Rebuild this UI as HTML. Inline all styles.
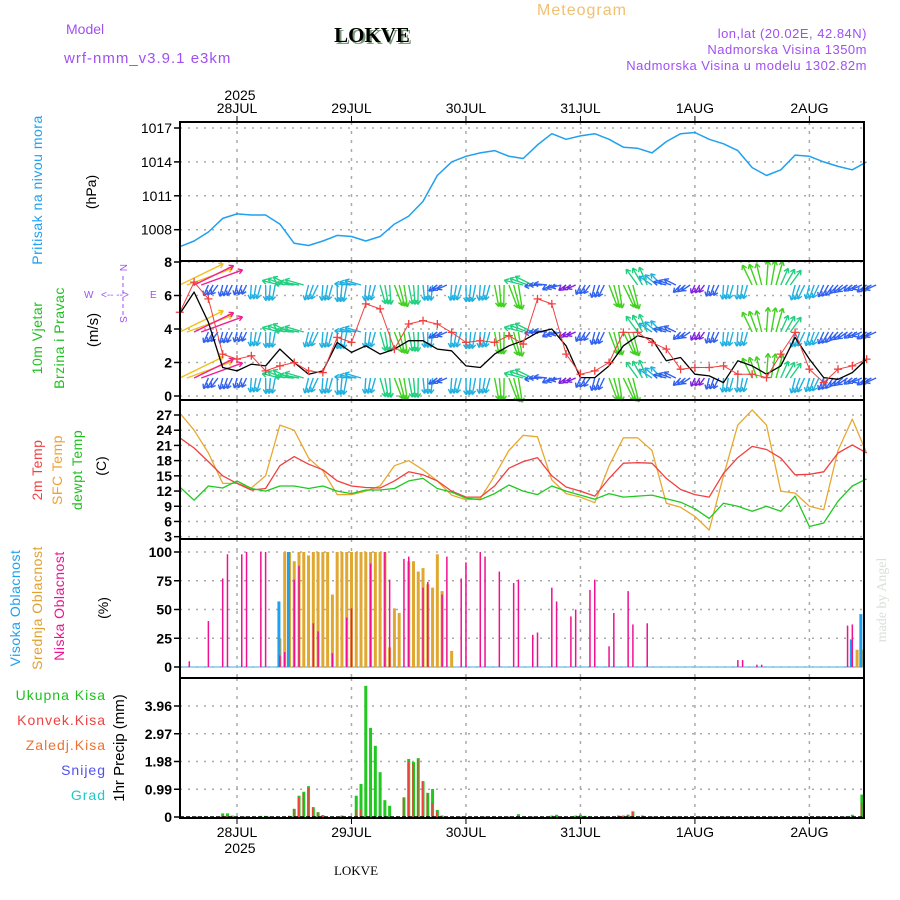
<!DOCTYPE html>
<html><head><meta charset="utf-8">
<style>
html,body{margin:0;padding:0;background:#fff;}
svg{display:block;font-family:"Liberation Sans",sans-serif;}
</style></head>
<body>
<svg id="chart" width="900" height="900" viewBox="0 0 900 900" xmlns="http://www.w3.org/2000/svg">
<rect width="900" height="900" fill="#fff"/>
<g>
<text x="582" y="15" font-size="16" fill="#f0c070" text-anchor="middle" letter-spacing="1">Meteogram</text>
<text x="66" y="34" font-size="14" fill="#a050f0">Model</text>
<text x="374" y="44" font-size="21" font-weight="bold" font-family="Liberation Serif,serif" fill="#7a9a7a" text-anchor="middle">LOKVE</text>
<text x="372" y="42" font-size="21" font-weight="bold" font-family="Liberation Serif,serif" fill="#000" text-anchor="middle">LOKVE</text>
<text x="64" y="63" font-size="15" fill="#a050f0" letter-spacing="1">wrf-nmm_v3.9.1 e3km</text>
<text x="867" y="38" font-size="13" fill="#a050f0" text-anchor="end" letter-spacing="0.5">lon,lat (20.02E, 42.84N)</text>
<text x="867" y="54" font-size="13" fill="#a050f0" text-anchor="end" letter-spacing="0.5">Nadmorska Visina 1350m</text>
<text x="867" y="70" font-size="13" fill="#a050f0" text-anchor="end" letter-spacing="0.5">Nadmorska Visina u modelu 1302.82m</text>
<text x="240" y="100" font-size="14" text-anchor="middle">2025</text>
<text x="240" y="853" font-size="14" text-anchor="middle">2025</text>
<text x="356" y="875" font-size="13" font-family="Liberation Serif,serif" text-anchor="middle">LOKVE</text>
<text transform="translate(886,600) rotate(-90)" font-size="14" font-family="Liberation Serif,serif" fill="#d8e0d8" text-anchor="middle">made by Angel</text>
</g>
<g font-size="14">
<text transform="translate(42,190) rotate(-90)" fill="#20a0f0" text-anchor="middle" letter-spacing="0.5">Pritisak na nivou mora</text>
<text transform="translate(96,192) rotate(-90)" text-anchor="middle">(hPa)</text>
<text transform="translate(42,338) rotate(-90)" fill="#20c020" text-anchor="middle" letter-spacing="0.5">10m Vjetar</text>
<text transform="translate(64,338) rotate(-90)" fill="#20c020" text-anchor="middle" letter-spacing="0.5">Brzina i Pravac</text>
<text transform="translate(98,330) rotate(-90)" text-anchor="middle" font-size="15">(m/s)</text>
<g fill="#a050f0" font-size="10">
<text x="84" y="298">W</text><text x="101" y="298">&lt;-- --&gt;</text><text x="150" y="298">E</text>
<line x1="123" y1="276" x2="123" y2="318" stroke="#a050f0" stroke-dasharray="4,3"/>
<text transform="translate(120,264) rotate(90)">N</text>
<text transform="translate(120,316) rotate(90)">S</text>
</g>
<text transform="translate(42,470) rotate(-90)" fill="#f04040" text-anchor="middle" letter-spacing="0.5">2m Temp</text>
<text transform="translate(62,470) rotate(-90)" fill="#f0a030" text-anchor="middle" letter-spacing="0.5">SFC Temp</text>
<text transform="translate(82,470) rotate(-90)" fill="#20c020" text-anchor="middle" letter-spacing="0.5">dewpt Temp</text>
<text transform="translate(106,466) rotate(-90)" text-anchor="middle">(C)</text>
<text transform="translate(20,608) rotate(-90)" fill="#20a0f0" text-anchor="middle" letter-spacing="0.5">Visoka Oblacnost</text>
<text transform="translate(42,608) rotate(-90)" fill="#e0a030" text-anchor="middle" letter-spacing="0.5">Srednja Oblacnost</text>
<text transform="translate(64,606) rotate(-90)" fill="#f01090" text-anchor="middle" letter-spacing="0.5">Niska Oblacnost</text>
<text transform="translate(108,608) rotate(-90)" text-anchor="middle">(%)</text>
<text x="106" y="700" fill="#20c020" text-anchor="end" letter-spacing="1">Ukupna  Kisa</text>
<text x="106" y="725" fill="#f04040" text-anchor="end" letter-spacing="1">Konvek.Kisa</text>
<text x="106" y="750" fill="#f07030" text-anchor="end" letter-spacing="1">Zaledj.Kisa</text>
<text x="106" y="775" fill="#5050f0" text-anchor="end" letter-spacing="1">Snijeg</text>
<text x="106" y="800" fill="#20c8c8" text-anchor="end" letter-spacing="1">Grad</text>
<text transform="translate(124,748) rotate(-90)" text-anchor="middle" font-size="15">1hr Precip (mm)</text>
</g>
<g id="plot"></g>
</svg>
<script>
// ---------- data ----------
const hours3 = [-12,-9,-6,-3,0,3,6,9,12,15,18,21,24,27,30,33,36,39,42,45,48,51,54,57,60,63,66,69,72,75,78,81,84,87,90,93,96,99,102,105,108,111,114,117,120,123,126,129,132];
const pressure = [1006.5,1007,1007.8,1009,1009.4,1009.3,1009.3,1008.5,1006.8,1006.6,1007,1007.5,1007.4,1007,1007.4,1008.5,1009.2,1010.5,1012.8,1014,1014.5,1014.8,1015,1014.5,1014.3,1015.5,1016.5,1016,1016.3,1016.5,1016,1015.3,1015.2,1014.8,1015.8,1016.5,1016.6,1016,1015.6,1015,1013.5,1012.8,1013.3,1014.6,1014.5,1014,1013.6,1013.3,1014];
const windSpeed = [4.9,6.2,4.4,1.7,1.5,1.9,1.8,2.8,2,1.3,1.5,3.2,2.6,3,2.5,2.8,3.3,3.3,2.8,2.7,1.8,1.7,2.5,3,3.3,3.8,4,3,1.1,1.1,1.8,3,3.6,3.4,2.1,2.3,1.3,1.2,0.8,2.1,1.8,1.3,1.8,3.5,2.2,1.1,1,1.4,2.2];
const windGust = [5,6.8,5.8,2.5,2.2,2.4,1.5,1.8,2,1.5,1.4,3.5,3.2,5.5,5.2,2.8,4.3,4.5,4.3,3.8,3.2,3.3,3.2,3.6,3.1,5.8,5.5,2.5,1.3,1.5,2,3.8,3.8,3.2,2.8,1.6,1.7,1.7,1.8,1.3,1.3,1.1,2.5,3.8,1.6,0.8,1.6,1.8,2.2];
const windDir = [340,340,120,110,110,100,95,200,190,110,100,95,190,100,80,75,85,90,150,100,95,100,85,75,200,180,160,150,120,110,75,70,240,220,200,140,120,110,100,100,250,280,300,110,110,120,140,150,150];
const windLen = [22,20,9,9,8,11,12,14,15,12,12,13,13,12,15,17,15,12,8,12,13,12,17,19,15,10,8,7,8,10,18,19,15,12,10,8,7,9,11,11,17,19,14,12,11,10,9,8,9];
const temp2m = [22.5,20.5,17.8,15,13.5,12.2,12.5,17,18.8,17.3,16.2,14,13,12.7,12.6,14,15.8,15.2,14,12,10.8,10.8,13,16.5,17.8,18.6,15,12.8,12,11,14.5,17.5,17.6,17.5,14.5,12.3,11.3,10.8,15.5,18.6,20.8,20.2,18.5,15.2,15.3,15.8,19.5,21.1,19.5];
const tempSfc = [27.4,24,19.5,13.5,13.5,12.6,15,25,24,18.5,16,11.3,11.3,12,13,17,18,16.2,14,11.2,10.3,10.5,15,20,23,22.7,14.2,11.5,10.8,9.7,17,22.5,22.5,20,9.6,8.8,7,4.3,15,25,28,25,12,11.6,9,8.3,20,26.2,19.5];
const dewpt = [12.8,10.2,13,12.6,14,12.5,12,13,13,12.5,13,12,11.5,12.2,12.2,12.5,14,14.5,12.5,11.8,10.6,10.3,11.5,13.2,12,11.3,13,12,11.2,10.4,11.5,10.8,11,11.2,10.5,9.8,8.5,6.6,9.6,9,8,9,8,11,5,5.7,10,13,14.4];
const lowCloudHours = [-10,-6,-3,-2,1,2,5,6,9,10,12,13,16,17,20,23,24,28,31,32,35,36,39,40,43,44,47,48,51,52,55,58,59,62,63,66,67,70,71,74,75,78,79,82,83,86,105,106,109,110,128,129];
const lowCloud = [5,40,77,98,98,100,100,100,10,13,76,88,38,31,12,43,51,90,100,76,94,96,69,74,63,96,77,91,100,96,83,73,76,28,30,69,57,44,50,67,76,18,47,66,37,38,6,6,2,2,36,37];
const midCloudHours = [9,10,11,12,13,14,15,16,17,18,19,20,21,22,23,24,25,26,27,28,29,30,31,32,33,34,36,37,38,39,40,41,42,43,45,130,131];
const midCloud = [25,100,100,92,100,100,97,100,100,100,100,63,100,100,100,100,100,100,100,100,100,100,100,17,51,47,92,92,83,86,72,69,98,66,14,15,15];
const highCloudHours = [9,11,129,131];
const highCloud = [57,100,24,46];
const rainHours = [-3,-2,-1,5,6,11,12,13,14,15,16,17,18,22,25,26,27,28,29,30,31,32,35,36,37,38,39,40,41,42,43,59,66,67,71,72,73,80,81,82,83,85,129,131];
const rainTotal = [0.13,0.13,0.05,0.04,0.04,0.04,0.29,0.76,0.9,1.1,0.35,0.17,0.07,0.05,0.76,1.18,4.68,3.18,2.54,1.6,0.6,0.4,0.7,2.07,1.96,2.1,1.28,0.86,1.0,0.25,0.05,0.1,0.05,0.08,0.05,0.08,0.04,0.05,0.05,0.08,0.2,0.05,0.08,0.8];
const rainConv = [0.05,0.05,0.03,0,0,0.04,0.29,0.7,0.85,1.05,0.35,0.17,0.07,0.05,0.25,0.25,0,0,0,0,0,0,0.7,2.0,1.9,2.05,1.28,0.86,0.5,0.2,0.05,0,0,0,0,0,0,0.05,0.05,0.08,0.2,0.05,0,0.5];
const dayLabels = ["28JUL","29JUL","30JUL","31JUL","1AUG","2AUG"];
const pTicks = [1017,1014,1011,1008];
const wTicks = [0,2,4,6,8];
const tTicks = [3,6,9,12,15,18,21,24,27];
const cTicks = [0,25,50,75,100];
const rTicks = [0,0.99,1.98,2.97,3.96];

// ---------- scales ----------
const X0=180, X1=864;
const xS = h => 237 + h*4.77;
const yP = v => 128 + (1017-v)*11.3;
const yW = v => 396 - v*16.75;
const yT = v => 415 + (27-v)*5.07;
const yC = v => 667 - v*1.15;
const yR = v => 817 - v*28.03;
const panels = [[122,261],[261,400],[400,539],[539,678],[678,818]];

const NS="http://www.w3.org/2000/svg";
const plot=document.getElementById('plot');
function mk(tag,attrs,parent){const e=document.createElementNS(NS,tag);for(const k in attrs)e.setAttribute(k,attrs[k]);(parent||plot).appendChild(e);return e;}

function grid(ticks, yf, p, fmt, bold){
  const g=mk('g',{});
  
  
  ticks.forEach(t=>{
    const y=yf(t);
    const gl=mk('line',{x1:X0,x2:X1,y1:y,y2:y,stroke:'#aaa','stroke-width':1.5,'stroke-dasharray':'2,6'},g);
    
    
    mk('line',{x1:X0-6,x2:X0,y1:y,y2:y,stroke:'#000','stroke-width':1.5},g);
    const tx=mk('text',{x:X0-8,y:y+5,'font-size':14,'text-anchor':'end','font-weight':bold?'bold':'normal'},g);
    tx.textContent=fmt?fmt(t):t;
    
    
  });
}
panels.forEach(p=>{
  for(let d=0;d<6;d++){
    const x=xS(d*24);
    const vl=mk('line',{x1:x,x2:x,y1:p[0],y2:p[1],stroke:'#aaa','stroke-width':1.5,'stroke-dasharray':'3,6'});
    
    
  }
});
grid(pTicks,yP,0);
grid(wTicks,yW,1,null,true);
grid(tTicks,yT,2,null,true);
grid(cTicks,yC,3,null,true);
grid(rTicks,yR,4,t=>t===0?'0':t.toFixed(2),true);

dayLabels.forEach((d,i)=>{
  const x=xS(i*24);
  const t1=mk('text',{x:x,y:113,'font-size':14,'text-anchor':'middle'});t1.textContent=d;
  
  
  mk('line',{x1:x,x2:x,y1:116,y2:122,stroke:'#000'});
  const t2=mk('text',{x:x,y:837,'font-size':14,'text-anchor':'middle'});t2.textContent=d;
  
  
  mk('line',{x1:x,x2:x,y1:818,y2:824,stroke:'#000'});
});

function line(xs,ys,color,name,w){
  const pts=xs.map((h,i)=>xS(h).toFixed(1)+','+ys[i].toFixed(1)).join(' ');
  const e=mk('polyline',{points:pts,fill:'none',stroke:color,'stroke-width':w||1.5,'stroke-linejoin':'round'});
  
  
  return e;
}
line(hours3,pressure.map(yP),'#20a0f0','pressure-line');

// wind arrows (each 3-hourly observation drawn as a cluster of hourly arrows)
function arrowColor(l){return l<8?'#8020e0':l<11?'#3060f0':l<14?'#20b0e0':l<17?'#20d080':l<20?'#40d020':'#f0c020';}
const rows=[285,332,378];
rows.forEach(ry=>{
  hours3.forEach((h,i)=>{
    const col=h<-6?(i===0?'#f0c020':'#f02090'):arrowColor(windLen[i]);
    const g=mk('g',{stroke:col,'stroke-width':1.4,fill:'none'});
    
    
    const sub = h<-6 ? [0,1.5] : [0,1,2];
    sub.forEach((o,k)=>{
      const a=(windDir[i]+(k-1)*6)*Math.PI/180, L=windLen[i]*(h<-6?2.2:1.3);
      const x=xS(h+o), x2=x+Math.cos(a)*L, y2=ry+Math.sin(a)*L;
      mk('line',{x1:x,y1:ry,x2:x2,y2:y2},g);
      [a+2.6,a-2.6].forEach(b=>mk('line',{x1:x2,y1:y2,x2:x2+Math.cos(b)*5,y2:y2+Math.sin(b)*5},g));
    });
  });
});
line(hours3,windSpeed.map(yW),'#000','wind-speed-line',1.3);
line(hours3,windGust.map(yW),'#f04040','wind-gust-line',1);
hours3.forEach((h,i)=>{
  const x=xS(h),y=yW(windGust[i]);
  const m=mk('path',{d:`M${x-4},${y}H${x+4}M${x},${y-4}V${y+4}`,stroke:'#f04040','stroke-width':1.3});
  
  
});

line(hours3,tempSfc.map(yT),'#e8a830','sfc-temp-line',1.3);
line(hours3,temp2m.map(yT),'#f04040','temp2m-line',1.3);
line(hours3,dewpt.map(yT),'#20c820','dewpt-line',1.3);

function bars(hs,vals,yf,color,w,dx,name){
  hs.forEach((h,i)=>{
    if(!vals[i])return;
    const x=xS(h)+dx, y=yf(vals[i]);
    const r=mk('rect',{x:x-w/2,y:y,width:w,height:yf(0)-y,fill:color});
    
    
  });
}
mk('line',{x1:X0,x2:X1,y1:yC(0),y2:yC(0),stroke:'#80c8e8','stroke-width':1.5});
bars(midCloudHours,midCloud,yC,'#e0a830',3,0,'mid-cloud-bar');
bars(highCloudHours,highCloud,yC,'#20a0f0',3,-1,'high-cloud-bar');
bars(lowCloudHours,lowCloud,yC,'#f01090',1.5,0,'low-cloud-bar');

bars(rainHours,rainTotal,yR,'#20c820',3,0,'total-rain-bar');
bars(rainHours,rainConv,yR,'#f04040',1.5,-0.5,'convective-rain-bar');
mk('line',{x1:X0,x2:X1,y1:yR(0),y2:yR(0),stroke:'#000','stroke-width':1.5,'stroke-dasharray':'4,2'});

panels.forEach(p=>{
  const r=mk('rect',{x:X0,y:p[0],width:X1-X0,height:p[1]-p[0],fill:'none',stroke:'#000','stroke-width':2});
  
  
});
</script>
</body></html>
